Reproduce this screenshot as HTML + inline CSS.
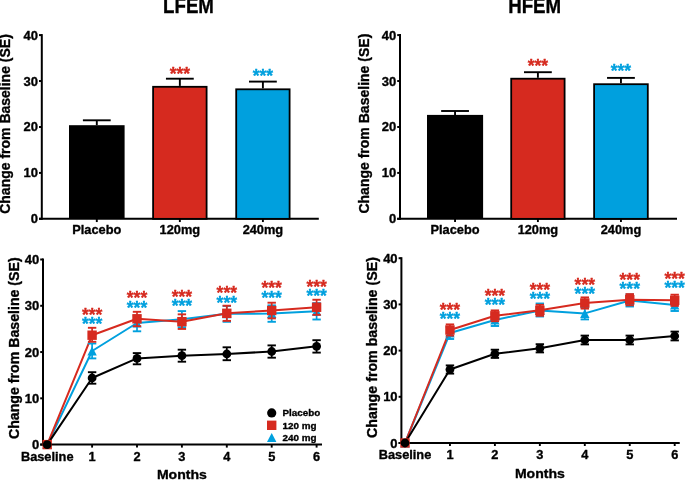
<!DOCTYPE html>
<html><head><meta charset="utf-8"><style>
html,body{margin:0;padding:0;background:#fff;width:685px;height:480px;overflow:hidden}
svg{display:block;will-change:transform}
</style></head><body>
<svg width="685" height="480" viewBox="0 0 685 480" font-family="'Liberation Sans', sans-serif" font-weight="bold">
<rect width="685" height="480" fill="#fff"/>
<line x1="41.8" y1="34.1" x2="41.8" y2="219.85" stroke="#000" stroke-width="2.0" stroke-linecap="butt"/>
<line x1="39.0" y1="218.85" x2="41.8" y2="218.85" stroke="#000" stroke-width="2.0" stroke-linecap="butt"/>
<text x="38.0" y="223.35" font-size="13" text-anchor="end" fill="#000" stroke="#000" stroke-width="0.35" stroke-linejoin="round" >0</text>
<line x1="39.0" y1="172.9125" x2="41.8" y2="172.9125" stroke="#000" stroke-width="2.0" stroke-linecap="butt"/>
<text x="38.0" y="177.4125" font-size="13" text-anchor="end" fill="#000" stroke="#000" stroke-width="0.35" stroke-linejoin="round" >10</text>
<line x1="39.0" y1="126.975" x2="41.8" y2="126.975" stroke="#000" stroke-width="2.0" stroke-linecap="butt"/>
<text x="38.0" y="131.475" font-size="13" text-anchor="end" fill="#000" stroke="#000" stroke-width="0.35" stroke-linejoin="round" >20</text>
<line x1="39.0" y1="81.0375" x2="41.8" y2="81.0375" stroke="#000" stroke-width="2.0" stroke-linecap="butt"/>
<text x="38.0" y="85.5375" font-size="13" text-anchor="end" fill="#000" stroke="#000" stroke-width="0.35" stroke-linejoin="round" >30</text>
<line x1="39.0" y1="35.099999999999994" x2="41.8" y2="35.099999999999994" stroke="#000" stroke-width="2.0" stroke-linecap="butt"/>
<text x="38.0" y="39.599999999999994" font-size="13" text-anchor="end" fill="#000" stroke="#000" stroke-width="0.35" stroke-linejoin="round" >40</text>
<line x1="39.0" y1="218.85" x2="318.8" y2="218.85" stroke="#000" stroke-width="2.0" stroke-linecap="butt"/>
<line x1="96.8" y1="120.3" x2="96.8" y2="125.2" stroke="#000" stroke-width="1.9" stroke-linecap="butt"/>
<line x1="82.89999999999999" y1="120.3" x2="110.7" y2="120.3" stroke="#000" stroke-width="1.9" stroke-linecap="butt"/>
<rect x="69.0" y="125.2" width="55.599999999999994" height="93.64999999999999" fill="#000"/>
<line x1="96.8" y1="218.85" x2="96.8" y2="222.04999999999998" stroke="#000" stroke-width="1.9" stroke-linecap="butt"/>
<text x="96.8" y="233.7" font-size="12.8" text-anchor="middle" fill="#000" stroke="#000" stroke-width="0.35" stroke-linejoin="round" >Placebo</text>
<line x1="179.85" y1="78.7" x2="179.85" y2="85.9" stroke="#000" stroke-width="1.9" stroke-linecap="butt"/>
<line x1="165.95" y1="78.7" x2="193.75" y2="78.7" stroke="#000" stroke-width="1.9" stroke-linecap="butt"/>
<rect x="153.1" y="86.80000000000001" width="53.500000000000014" height="132.04999999999998" fill="#d62a1f" stroke="#000" stroke-width="1.8"/>
<line x1="179.85" y1="218.85" x2="179.85" y2="222.04999999999998" stroke="#000" stroke-width="1.9" stroke-linecap="butt"/>
<text x="179.85" y="233.7" font-size="12.8" text-anchor="middle" fill="#000" stroke="#000" stroke-width="0.35" stroke-linejoin="round" >120mg</text>
<text x="179.85" y="80.15" font-size="17.5" text-anchor="middle" fill="#d62a1f" stroke="#d62a1f" stroke-width="0.35" stroke-linejoin="round" >***</text>
<line x1="262.9" y1="81.6" x2="262.9" y2="88.4" stroke="#000" stroke-width="1.9" stroke-linecap="butt"/>
<line x1="248.99999999999997" y1="81.6" x2="276.79999999999995" y2="81.6" stroke="#000" stroke-width="1.9" stroke-linecap="butt"/>
<rect x="236.20000000000002" y="89.30000000000001" width="53.39999999999999" height="129.54999999999998" fill="#00a0de" stroke="#000" stroke-width="1.8"/>
<line x1="262.9" y1="218.85" x2="262.9" y2="222.04999999999998" stroke="#000" stroke-width="1.9" stroke-linecap="butt"/>
<text x="262.9" y="233.7" font-size="12.8" text-anchor="middle" fill="#000" stroke="#000" stroke-width="0.35" stroke-linejoin="round" >240mg</text>
<text x="262.9" y="82.25" font-size="17.5" text-anchor="middle" fill="#00a0de" stroke="#00a0de" stroke-width="0.35" stroke-linejoin="round" >***</text>
<text x="188.5" y="13.3" font-size="21.5" text-anchor="middle" fill="#000" stroke="#000" stroke-width="0.35" stroke-linejoin="round" textLength="50.8" lengthAdjust="spacingAndGlyphs" >LFEM</text>
<line x1="400.0" y1="34.1" x2="400.0" y2="219.85" stroke="#000" stroke-width="2.0" stroke-linecap="butt"/>
<line x1="397.2" y1="218.85" x2="400.0" y2="218.85" stroke="#000" stroke-width="2.0" stroke-linecap="butt"/>
<text x="396.2" y="223.35" font-size="13" text-anchor="end" fill="#000" stroke="#000" stroke-width="0.35" stroke-linejoin="round" >0</text>
<line x1="397.2" y1="172.9125" x2="400.0" y2="172.9125" stroke="#000" stroke-width="2.0" stroke-linecap="butt"/>
<text x="396.2" y="177.4125" font-size="13" text-anchor="end" fill="#000" stroke="#000" stroke-width="0.35" stroke-linejoin="round" >10</text>
<line x1="397.2" y1="126.975" x2="400.0" y2="126.975" stroke="#000" stroke-width="2.0" stroke-linecap="butt"/>
<text x="396.2" y="131.475" font-size="13" text-anchor="end" fill="#000" stroke="#000" stroke-width="0.35" stroke-linejoin="round" >20</text>
<line x1="397.2" y1="81.0375" x2="400.0" y2="81.0375" stroke="#000" stroke-width="2.0" stroke-linecap="butt"/>
<text x="396.2" y="85.5375" font-size="13" text-anchor="end" fill="#000" stroke="#000" stroke-width="0.35" stroke-linejoin="round" >30</text>
<line x1="397.2" y1="35.099999999999994" x2="400.0" y2="35.099999999999994" stroke="#000" stroke-width="2.0" stroke-linecap="butt"/>
<text x="396.2" y="39.599999999999994" font-size="13" text-anchor="end" fill="#000" stroke="#000" stroke-width="0.35" stroke-linejoin="round" >40</text>
<line x1="397.2" y1="218.85" x2="677.0" y2="218.85" stroke="#000" stroke-width="2.0" stroke-linecap="butt"/>
<line x1="455.05" y1="111.0" x2="455.05" y2="114.9" stroke="#000" stroke-width="1.9" stroke-linecap="butt"/>
<line x1="441.15000000000003" y1="111.0" x2="468.95" y2="111.0" stroke="#000" stroke-width="1.9" stroke-linecap="butt"/>
<rect x="427.0" y="114.9" width="56.10000000000002" height="103.94999999999999" fill="#000"/>
<line x1="455.05" y1="218.85" x2="455.05" y2="222.04999999999998" stroke="#000" stroke-width="1.9" stroke-linecap="butt"/>
<text x="455.05" y="233.7" font-size="12.8" text-anchor="middle" fill="#000" stroke="#000" stroke-width="0.35" stroke-linejoin="round" >Placebo</text>
<line x1="537.9" y1="72.2" x2="537.9" y2="77.8" stroke="#000" stroke-width="1.9" stroke-linecap="butt"/>
<line x1="524.0" y1="72.2" x2="551.8" y2="72.2" stroke="#000" stroke-width="1.9" stroke-linecap="butt"/>
<rect x="511.2" y="78.7" width="53.39999999999999" height="140.15" fill="#d62a1f" stroke="#000" stroke-width="1.8"/>
<line x1="537.9" y1="218.85" x2="537.9" y2="222.04999999999998" stroke="#000" stroke-width="1.9" stroke-linecap="butt"/>
<text x="537.9" y="233.7" font-size="12.8" text-anchor="middle" fill="#000" stroke="#000" stroke-width="0.35" stroke-linejoin="round" >120mg</text>
<text x="537.9" y="71.75" font-size="17.5" text-anchor="middle" fill="#d62a1f" stroke="#d62a1f" stroke-width="0.35" stroke-linejoin="round" >***</text>
<line x1="620.95" y1="77.9" x2="620.95" y2="83.3" stroke="#000" stroke-width="1.9" stroke-linecap="butt"/>
<line x1="607.0500000000001" y1="77.9" x2="634.85" y2="77.9" stroke="#000" stroke-width="1.9" stroke-linecap="butt"/>
<rect x="594.1" y="84.2" width="53.7" height="134.65" fill="#00a0de" stroke="#000" stroke-width="1.8"/>
<line x1="620.95" y1="218.85" x2="620.95" y2="222.04999999999998" stroke="#000" stroke-width="1.9" stroke-linecap="butt"/>
<text x="620.95" y="233.7" font-size="12.8" text-anchor="middle" fill="#000" stroke="#000" stroke-width="0.35" stroke-linejoin="round" >240mg</text>
<text x="620.95" y="77.35000000000001" font-size="17.5" text-anchor="middle" fill="#00a0de" stroke="#00a0de" stroke-width="0.35" stroke-linejoin="round" >***</text>
<text x="534.7" y="13.3" font-size="21.5" text-anchor="middle" fill="#000" stroke="#000" stroke-width="0.35" stroke-linejoin="round" textLength="53.0" lengthAdjust="spacingAndGlyphs" >HFEM</text>
<text transform="translate(10.3,213.8) rotate(-90)" x="0" y="0" font-size="14" text-anchor="start" stroke="#000" stroke-width="0.35" stroke-linejoin="round" textLength="179.60000000000002" lengthAdjust="spacingAndGlyphs">Change from Baseline (SE)</text>
<text transform="translate(369.1,213.6) rotate(-90)" x="0" y="0" font-size="14" text-anchor="start" stroke="#000" stroke-width="0.35" stroke-linejoin="round" textLength="179.89999999999998" lengthAdjust="spacingAndGlyphs">Change from Baseline (SE)</text>
<line x1="43.0" y1="258.5" x2="43.0" y2="445.6" stroke="#000" stroke-width="2.0" stroke-linecap="butt"/>
<line x1="40.2" y1="444.6" x2="43.0" y2="444.6" stroke="#000" stroke-width="2.0" stroke-linecap="butt"/>
<text x="39.2" y="449.1" font-size="13" text-anchor="end" fill="#000" stroke="#000" stroke-width="0.35" stroke-linejoin="round" >0</text>
<line x1="40.2" y1="398.32500000000005" x2="43.0" y2="398.32500000000005" stroke="#000" stroke-width="2.0" stroke-linecap="butt"/>
<text x="39.2" y="402.82500000000005" font-size="13" text-anchor="end" fill="#000" stroke="#000" stroke-width="0.35" stroke-linejoin="round" >10</text>
<line x1="40.2" y1="352.05" x2="43.0" y2="352.05" stroke="#000" stroke-width="2.0" stroke-linecap="butt"/>
<text x="39.2" y="356.55" font-size="13" text-anchor="end" fill="#000" stroke="#000" stroke-width="0.35" stroke-linejoin="round" >20</text>
<line x1="40.2" y1="305.775" x2="43.0" y2="305.775" stroke="#000" stroke-width="2.0" stroke-linecap="butt"/>
<text x="39.2" y="310.275" font-size="13" text-anchor="end" fill="#000" stroke="#000" stroke-width="0.35" stroke-linejoin="round" >30</text>
<line x1="40.2" y1="259.5" x2="43.0" y2="259.5" stroke="#000" stroke-width="2.0" stroke-linecap="butt"/>
<text x="39.2" y="264.0" font-size="13" text-anchor="end" fill="#000" stroke="#000" stroke-width="0.35" stroke-linejoin="round" >40</text>
<line x1="40.2" y1="444.6" x2="322.0" y2="444.6" stroke="#000" stroke-width="2.0" stroke-linecap="butt"/>
<line x1="92.1" y1="444.6" x2="92.1" y2="447.6" stroke="#000" stroke-width="1.9" stroke-linecap="butt"/>
<text x="92.1" y="460.70000000000005" font-size="12.8" text-anchor="middle" fill="#000" stroke="#000" stroke-width="0.35" stroke-linejoin="round" >1</text>
<line x1="137.0" y1="444.6" x2="137.0" y2="447.6" stroke="#000" stroke-width="1.9" stroke-linecap="butt"/>
<text x="137.0" y="460.70000000000005" font-size="12.8" text-anchor="middle" fill="#000" stroke="#000" stroke-width="0.35" stroke-linejoin="round" >2</text>
<line x1="181.89999999999998" y1="444.6" x2="181.89999999999998" y2="447.6" stroke="#000" stroke-width="1.9" stroke-linecap="butt"/>
<text x="181.89999999999998" y="460.70000000000005" font-size="12.8" text-anchor="middle" fill="#000" stroke="#000" stroke-width="0.35" stroke-linejoin="round" >3</text>
<line x1="226.8" y1="444.6" x2="226.8" y2="447.6" stroke="#000" stroke-width="1.9" stroke-linecap="butt"/>
<text x="226.8" y="460.70000000000005" font-size="12.8" text-anchor="middle" fill="#000" stroke="#000" stroke-width="0.35" stroke-linejoin="round" >4</text>
<line x1="271.7" y1="444.6" x2="271.7" y2="447.6" stroke="#000" stroke-width="1.9" stroke-linecap="butt"/>
<text x="271.7" y="460.70000000000005" font-size="12.8" text-anchor="middle" fill="#000" stroke="#000" stroke-width="0.35" stroke-linejoin="round" >5</text>
<line x1="316.59999999999997" y1="444.6" x2="316.59999999999997" y2="447.6" stroke="#000" stroke-width="1.9" stroke-linecap="butt"/>
<text x="316.59999999999997" y="460.70000000000005" font-size="12.8" text-anchor="middle" fill="#000" stroke="#000" stroke-width="0.35" stroke-linejoin="round" >6</text>
<text x="47.2" y="460.8" font-size="12.8" text-anchor="middle" fill="#000" stroke="#000" stroke-width="0.35" stroke-linejoin="round" textLength="52.6" lengthAdjust="spacingAndGlyphs" >Baseline</text>
<text x="181.9" y="479.40000000000003" font-size="13.6" text-anchor="middle" fill="#000" stroke="#000" stroke-width="0.35" stroke-linejoin="round" textLength="50.0" lengthAdjust="spacingAndGlyphs" >Months</text>
<polyline points="47.2,444.6 92.1,351.0 137.0,323.0 181.89999999999998,319.2 226.8,313.8 271.7,313.6 316.59999999999997,311.3" fill="none" stroke="#00a0de" stroke-width="2" stroke-linejoin="round"/>
<polyline points="47.2,444.6 92.1,335.2 137.0,318.8 181.89999999999998,321.65 226.8,313.3 271.7,310.5 316.59999999999997,307.25" fill="none" stroke="#d62a1f" stroke-width="2" stroke-linejoin="round"/>
<polyline points="47.2,444.6 92.1,378.0 137.0,358.4 181.89999999999998,355.65 226.8,354.0 271.7,351.5 316.59999999999997,346.3" fill="none" stroke="#000" stroke-width="2" stroke-linejoin="round"/>
<polygon points="42.5,449.1 51.900000000000006,449.1 47.2,440.1" fill="#00a0de"/>
<line x1="92.1" y1="343.5" x2="92.1" y2="358.4" stroke="#00a0de" stroke-width="1.7" stroke-linecap="butt"/>
<line x1="87.89999999999999" y1="343.5" x2="96.3" y2="343.5" stroke="#00a0de" stroke-width="1.9" stroke-linecap="butt"/>
<line x1="87.89999999999999" y1="358.4" x2="96.3" y2="358.4" stroke="#00a0de" stroke-width="1.9" stroke-linecap="butt"/>
<polygon points="87.39999999999999,355.5 96.8,355.5 92.1,346.5" fill="#00a0de"/>
<line x1="137.0" y1="315.5" x2="137.0" y2="331.3" stroke="#00a0de" stroke-width="1.7" stroke-linecap="butt"/>
<line x1="132.8" y1="315.5" x2="141.2" y2="315.5" stroke="#00a0de" stroke-width="1.9" stroke-linecap="butt"/>
<line x1="132.8" y1="331.3" x2="141.2" y2="331.3" stroke="#00a0de" stroke-width="1.9" stroke-linecap="butt"/>
<polygon points="132.3,327.5 141.7,327.5 137.0,318.5" fill="#00a0de"/>
<line x1="181.89999999999998" y1="311.09999999999997" x2="181.89999999999998" y2="327.2" stroke="#00a0de" stroke-width="1.7" stroke-linecap="butt"/>
<line x1="177.7" y1="311.09999999999997" x2="186.09999999999997" y2="311.09999999999997" stroke="#00a0de" stroke-width="1.9" stroke-linecap="butt"/>
<line x1="177.7" y1="327.2" x2="186.09999999999997" y2="327.2" stroke="#00a0de" stroke-width="1.9" stroke-linecap="butt"/>
<polygon points="177.2,323.7 186.59999999999997,323.7 181.89999999999998,314.7" fill="#00a0de"/>
<line x1="226.8" y1="306.0" x2="226.8" y2="321.8" stroke="#00a0de" stroke-width="1.7" stroke-linecap="butt"/>
<line x1="222.60000000000002" y1="306.0" x2="231.0" y2="306.0" stroke="#00a0de" stroke-width="1.9" stroke-linecap="butt"/>
<line x1="222.60000000000002" y1="321.8" x2="231.0" y2="321.8" stroke="#00a0de" stroke-width="1.9" stroke-linecap="butt"/>
<polygon points="222.10000000000002,318.3 231.5,318.3 226.8,309.3" fill="#00a0de"/>
<line x1="271.7" y1="305.40000000000003" x2="271.7" y2="321.8" stroke="#00a0de" stroke-width="1.7" stroke-linecap="butt"/>
<line x1="267.5" y1="305.40000000000003" x2="275.9" y2="305.40000000000003" stroke="#00a0de" stroke-width="1.9" stroke-linecap="butt"/>
<line x1="267.5" y1="321.8" x2="275.9" y2="321.8" stroke="#00a0de" stroke-width="1.9" stroke-linecap="butt"/>
<polygon points="267.0,318.1 276.4,318.1 271.7,309.1" fill="#00a0de"/>
<line x1="316.59999999999997" y1="303.1" x2="316.59999999999997" y2="319.5" stroke="#00a0de" stroke-width="1.7" stroke-linecap="butt"/>
<line x1="312.4" y1="303.1" x2="320.79999999999995" y2="303.1" stroke="#00a0de" stroke-width="1.9" stroke-linecap="butt"/>
<line x1="312.4" y1="319.5" x2="320.79999999999995" y2="319.5" stroke="#00a0de" stroke-width="1.9" stroke-linecap="butt"/>
<polygon points="311.9,315.8 321.29999999999995,315.8 316.59999999999997,306.8" fill="#00a0de"/>
<rect x="42.5" y="439.90000000000003" width="9.4" height="9.4" fill="#d62a1f"/>
<line x1="92.1" y1="327.8" x2="92.1" y2="341.8" stroke="#d62a1f" stroke-width="1.7" stroke-linecap="butt"/>
<line x1="87.89999999999999" y1="327.8" x2="96.3" y2="327.8" stroke="#d62a1f" stroke-width="1.9" stroke-linecap="butt"/>
<line x1="87.89999999999999" y1="341.8" x2="96.3" y2="341.8" stroke="#d62a1f" stroke-width="1.9" stroke-linecap="butt"/>
<rect x="87.39999999999999" y="330.5" width="9.4" height="9.4" fill="#d62a1f"/>
<line x1="137.0" y1="311.8" x2="137.0" y2="326.2" stroke="#d62a1f" stroke-width="1.7" stroke-linecap="butt"/>
<line x1="132.8" y1="311.8" x2="141.2" y2="311.8" stroke="#d62a1f" stroke-width="1.9" stroke-linecap="butt"/>
<line x1="132.8" y1="326.2" x2="141.2" y2="326.2" stroke="#d62a1f" stroke-width="1.9" stroke-linecap="butt"/>
<rect x="132.3" y="314.1" width="9.4" height="9.4" fill="#d62a1f"/>
<line x1="181.89999999999998" y1="314.34999999999997" x2="181.89999999999998" y2="328.95" stroke="#d62a1f" stroke-width="1.7" stroke-linecap="butt"/>
<line x1="177.7" y1="314.34999999999997" x2="186.09999999999997" y2="314.34999999999997" stroke="#d62a1f" stroke-width="1.9" stroke-linecap="butt"/>
<line x1="177.7" y1="328.95" x2="186.09999999999997" y2="328.95" stroke="#d62a1f" stroke-width="1.9" stroke-linecap="butt"/>
<rect x="177.2" y="316.95" width="9.4" height="9.4" fill="#d62a1f"/>
<line x1="226.8" y1="305.7" x2="226.8" y2="320.90000000000003" stroke="#d62a1f" stroke-width="1.7" stroke-linecap="butt"/>
<line x1="222.60000000000002" y1="305.7" x2="231.0" y2="305.7" stroke="#d62a1f" stroke-width="1.9" stroke-linecap="butt"/>
<line x1="222.60000000000002" y1="320.90000000000003" x2="231.0" y2="320.90000000000003" stroke="#d62a1f" stroke-width="1.9" stroke-linecap="butt"/>
<rect x="222.10000000000002" y="308.6" width="9.4" height="9.4" fill="#d62a1f"/>
<line x1="271.7" y1="302.7" x2="271.7" y2="318.4" stroke="#d62a1f" stroke-width="1.7" stroke-linecap="butt"/>
<line x1="267.5" y1="302.7" x2="275.9" y2="302.7" stroke="#d62a1f" stroke-width="1.9" stroke-linecap="butt"/>
<line x1="267.5" y1="318.4" x2="275.9" y2="318.4" stroke="#d62a1f" stroke-width="1.9" stroke-linecap="butt"/>
<rect x="267.0" y="305.8" width="9.4" height="9.4" fill="#d62a1f"/>
<line x1="316.59999999999997" y1="299.75" x2="316.59999999999997" y2="314.85" stroke="#d62a1f" stroke-width="1.7" stroke-linecap="butt"/>
<line x1="312.4" y1="299.75" x2="320.79999999999995" y2="299.75" stroke="#d62a1f" stroke-width="1.9" stroke-linecap="butt"/>
<line x1="312.4" y1="314.85" x2="320.79999999999995" y2="314.85" stroke="#d62a1f" stroke-width="1.9" stroke-linecap="butt"/>
<rect x="311.9" y="302.55" width="9.4" height="9.4" fill="#d62a1f"/>
<circle cx="47.2" cy="444.6" r="4.4" fill="#000"/>
<line x1="92.1" y1="372.2" x2="92.1" y2="383.7" stroke="#000" stroke-width="1.7" stroke-linecap="butt"/>
<line x1="87.89999999999999" y1="372.2" x2="96.3" y2="372.2" stroke="#000" stroke-width="1.9" stroke-linecap="butt"/>
<line x1="87.89999999999999" y1="383.7" x2="96.3" y2="383.7" stroke="#000" stroke-width="1.9" stroke-linecap="butt"/>
<circle cx="92.1" cy="378.0" r="4.4" fill="#000"/>
<line x1="137.0" y1="353.09999999999997" x2="137.0" y2="364.29999999999995" stroke="#000" stroke-width="1.7" stroke-linecap="butt"/>
<line x1="132.8" y1="353.09999999999997" x2="141.2" y2="353.09999999999997" stroke="#000" stroke-width="1.9" stroke-linecap="butt"/>
<line x1="132.8" y1="364.29999999999995" x2="141.2" y2="364.29999999999995" stroke="#000" stroke-width="1.9" stroke-linecap="butt"/>
<circle cx="137.0" cy="358.4" r="4.4" fill="#000"/>
<line x1="181.89999999999998" y1="349.7" x2="181.89999999999998" y2="361.7" stroke="#000" stroke-width="1.7" stroke-linecap="butt"/>
<line x1="177.7" y1="349.7" x2="186.09999999999997" y2="349.7" stroke="#000" stroke-width="1.9" stroke-linecap="butt"/>
<line x1="177.7" y1="361.7" x2="186.09999999999997" y2="361.7" stroke="#000" stroke-width="1.9" stroke-linecap="butt"/>
<circle cx="181.89999999999998" cy="355.65" r="4.4" fill="#000"/>
<line x1="226.8" y1="347.3" x2="226.8" y2="360.2" stroke="#000" stroke-width="1.7" stroke-linecap="butt"/>
<line x1="222.60000000000002" y1="347.3" x2="231.0" y2="347.3" stroke="#000" stroke-width="1.9" stroke-linecap="butt"/>
<line x1="222.60000000000002" y1="360.2" x2="231.0" y2="360.2" stroke="#000" stroke-width="1.9" stroke-linecap="butt"/>
<circle cx="226.8" cy="354.0" r="4.4" fill="#000"/>
<line x1="271.7" y1="345.4" x2="271.7" y2="357.7" stroke="#000" stroke-width="1.7" stroke-linecap="butt"/>
<line x1="267.5" y1="345.4" x2="275.9" y2="345.4" stroke="#000" stroke-width="1.9" stroke-linecap="butt"/>
<line x1="267.5" y1="357.7" x2="275.9" y2="357.7" stroke="#000" stroke-width="1.9" stroke-linecap="butt"/>
<circle cx="271.7" cy="351.5" r="4.4" fill="#000"/>
<line x1="316.59999999999997" y1="340.2" x2="316.59999999999997" y2="352.6" stroke="#000" stroke-width="1.7" stroke-linecap="butt"/>
<line x1="312.4" y1="340.2" x2="320.79999999999995" y2="340.2" stroke="#000" stroke-width="1.9" stroke-linecap="butt"/>
<line x1="312.4" y1="352.6" x2="320.79999999999995" y2="352.6" stroke="#000" stroke-width="1.9" stroke-linecap="butt"/>
<circle cx="316.59999999999997" cy="346.3" r="4.4" fill="#000"/>
<text x="92.1" y="320.95" font-size="17.5" text-anchor="middle" fill="#d62a1f" stroke="#d62a1f" stroke-width="0.35" stroke-linejoin="round" >***</text>
<text x="92.1" y="329.95" font-size="17.5" text-anchor="middle" fill="#00a0de" stroke="#00a0de" stroke-width="0.35" stroke-linejoin="round" >***</text>
<text x="137.0" y="303.95" font-size="17.5" text-anchor="middle" fill="#d62a1f" stroke="#d62a1f" stroke-width="0.35" stroke-linejoin="round" >***</text>
<text x="137.0" y="313.7" font-size="17.5" text-anchor="middle" fill="#00a0de" stroke="#00a0de" stroke-width="0.35" stroke-linejoin="round" >***</text>
<text x="181.89999999999998" y="303.05" font-size="17.5" text-anchor="middle" fill="#d62a1f" stroke="#d62a1f" stroke-width="0.35" stroke-linejoin="round" >***</text>
<text x="181.89999999999998" y="312.2" font-size="17.5" text-anchor="middle" fill="#00a0de" stroke="#00a0de" stroke-width="0.35" stroke-linejoin="round" >***</text>
<text x="226.8" y="299.34999999999997" font-size="17.5" text-anchor="middle" fill="#d62a1f" stroke="#d62a1f" stroke-width="0.35" stroke-linejoin="round" >***</text>
<text x="226.8" y="308.7" font-size="17.5" text-anchor="middle" fill="#00a0de" stroke="#00a0de" stroke-width="0.35" stroke-linejoin="round" >***</text>
<text x="271.7" y="294.34999999999997" font-size="17.5" text-anchor="middle" fill="#d62a1f" stroke="#d62a1f" stroke-width="0.35" stroke-linejoin="round" >***</text>
<text x="271.7" y="303.7" font-size="17.5" text-anchor="middle" fill="#00a0de" stroke="#00a0de" stroke-width="0.35" stroke-linejoin="round" >***</text>
<text x="316.59999999999997" y="292.7" font-size="17.5" text-anchor="middle" fill="#d62a1f" stroke="#d62a1f" stroke-width="0.35" stroke-linejoin="round" >***</text>
<text x="316.59999999999997" y="301.84999999999997" font-size="17.5" text-anchor="middle" fill="#00a0de" stroke="#00a0de" stroke-width="0.35" stroke-linejoin="round" >***</text>
<text transform="translate(19.1,439.1) rotate(-90)" x="0" y="0" font-size="14" text-anchor="start" stroke="#000" stroke-width="0.35" stroke-linejoin="round" textLength="181.8" lengthAdjust="spacingAndGlyphs">Change from Baseline (SE)</text>
<circle cx="271.7" cy="412.9" r="4.6" fill="#000"/>
<text x="282.5" y="416.2" font-size="9.85" text-anchor="start" fill="#000" stroke="#000" stroke-width="0.35" stroke-linejoin="round" >Placebo</text>
<rect x="267.0" y="420.6" width="9.4" height="9.4" fill="#d62a1f"/>
<text x="282.5" y="428.7" font-size="9.85" text-anchor="start" fill="#000" stroke="#000" stroke-width="0.35" stroke-linejoin="round" >120 mg</text>
<polygon points="267.0,442.1 276.4,442.1 271.7,433.1" fill="#00a0de"/>
<text x="282.5" y="440.9" font-size="9.85" text-anchor="start" fill="#000" stroke="#000" stroke-width="0.35" stroke-linejoin="round" >240 mg</text>
<line x1="401.4" y1="257.2" x2="401.4" y2="444.0" stroke="#000" stroke-width="2.0" stroke-linecap="butt"/>
<line x1="398.59999999999997" y1="443.0" x2="401.4" y2="443.0" stroke="#000" stroke-width="2.0" stroke-linecap="butt"/>
<text x="397.59999999999997" y="447.5" font-size="13" text-anchor="end" fill="#000" stroke="#000" stroke-width="0.35" stroke-linejoin="round" >0</text>
<line x1="398.59999999999997" y1="396.8" x2="401.4" y2="396.8" stroke="#000" stroke-width="2.0" stroke-linecap="butt"/>
<text x="397.59999999999997" y="401.3" font-size="13" text-anchor="end" fill="#000" stroke="#000" stroke-width="0.35" stroke-linejoin="round" >10</text>
<line x1="398.59999999999997" y1="350.6" x2="401.4" y2="350.6" stroke="#000" stroke-width="2.0" stroke-linecap="butt"/>
<text x="397.59999999999997" y="355.1" font-size="13" text-anchor="end" fill="#000" stroke="#000" stroke-width="0.35" stroke-linejoin="round" >20</text>
<line x1="398.59999999999997" y1="304.4" x2="401.4" y2="304.4" stroke="#000" stroke-width="2.0" stroke-linecap="butt"/>
<text x="397.59999999999997" y="308.9" font-size="13" text-anchor="end" fill="#000" stroke="#000" stroke-width="0.35" stroke-linejoin="round" >30</text>
<line x1="398.59999999999997" y1="258.2" x2="401.4" y2="258.2" stroke="#000" stroke-width="2.0" stroke-linecap="butt"/>
<text x="397.59999999999997" y="262.7" font-size="13" text-anchor="end" fill="#000" stroke="#000" stroke-width="0.35" stroke-linejoin="round" >40</text>
<line x1="398.59999999999997" y1="443.0" x2="679.75" y2="443.0" stroke="#000" stroke-width="2.0" stroke-linecap="butt"/>
<line x1="449.95" y1="443.0" x2="449.95" y2="446.0" stroke="#000" stroke-width="1.9" stroke-linecap="butt"/>
<text x="449.95" y="459.1" font-size="12.8" text-anchor="middle" fill="#000" stroke="#000" stroke-width="0.35" stroke-linejoin="round" >1</text>
<line x1="494.9" y1="443.0" x2="494.9" y2="446.0" stroke="#000" stroke-width="1.9" stroke-linecap="butt"/>
<text x="494.9" y="459.1" font-size="12.8" text-anchor="middle" fill="#000" stroke="#000" stroke-width="0.35" stroke-linejoin="round" >2</text>
<line x1="539.85" y1="443.0" x2="539.85" y2="446.0" stroke="#000" stroke-width="1.9" stroke-linecap="butt"/>
<text x="539.85" y="459.1" font-size="12.8" text-anchor="middle" fill="#000" stroke="#000" stroke-width="0.35" stroke-linejoin="round" >3</text>
<line x1="584.8" y1="443.0" x2="584.8" y2="446.0" stroke="#000" stroke-width="1.9" stroke-linecap="butt"/>
<text x="584.8" y="459.1" font-size="12.8" text-anchor="middle" fill="#000" stroke="#000" stroke-width="0.35" stroke-linejoin="round" >4</text>
<line x1="629.75" y1="443.0" x2="629.75" y2="446.0" stroke="#000" stroke-width="1.9" stroke-linecap="butt"/>
<text x="629.75" y="459.1" font-size="12.8" text-anchor="middle" fill="#000" stroke="#000" stroke-width="0.35" stroke-linejoin="round" >5</text>
<line x1="674.7" y1="443.0" x2="674.7" y2="446.0" stroke="#000" stroke-width="1.9" stroke-linecap="butt"/>
<text x="674.7" y="459.1" font-size="12.8" text-anchor="middle" fill="#000" stroke="#000" stroke-width="0.35" stroke-linejoin="round" >6</text>
<text x="405.0" y="459.2" font-size="12.8" text-anchor="middle" fill="#000" stroke="#000" stroke-width="0.35" stroke-linejoin="round" textLength="52.6" lengthAdjust="spacingAndGlyphs" >Baseline</text>
<text x="539.9" y="477.8" font-size="13.6" text-anchor="middle" fill="#000" stroke="#000" stroke-width="0.35" stroke-linejoin="round" textLength="50.0" lengthAdjust="spacingAndGlyphs" >Months</text>
<polyline points="405.0,443.0 449.95,333.0 494.9,320.0 539.85,310.5 584.8,313.4 629.75,300.5 674.7,305.0" fill="none" stroke="#00a0de" stroke-width="2" stroke-linejoin="round"/>
<polyline points="405.0,443.0 449.95,330.0 494.9,315.8 539.85,310.3 584.8,303.0 629.75,299.7 674.7,300.3" fill="none" stroke="#d62a1f" stroke-width="2" stroke-linejoin="round"/>
<polyline points="405.0,443.0 449.95,369.5 494.9,353.8 539.85,348.3 584.8,340.0 629.75,340.0 674.7,336.0" fill="none" stroke="#000" stroke-width="2" stroke-linejoin="round"/>
<polygon points="400.3,447.5 409.7,447.5 405.0,438.5" fill="#00a0de"/>
<line x1="449.95" y1="327.0" x2="449.95" y2="339.0" stroke="#00a0de" stroke-width="1.7" stroke-linecap="butt"/>
<line x1="445.75" y1="327.0" x2="454.15" y2="327.0" stroke="#00a0de" stroke-width="1.9" stroke-linecap="butt"/>
<line x1="445.75" y1="339.0" x2="454.15" y2="339.0" stroke="#00a0de" stroke-width="1.9" stroke-linecap="butt"/>
<polygon points="445.25,337.5 454.65,337.5 449.95,328.5" fill="#00a0de"/>
<line x1="494.9" y1="314.0" x2="494.9" y2="326.0" stroke="#00a0de" stroke-width="1.7" stroke-linecap="butt"/>
<line x1="490.7" y1="314.0" x2="499.09999999999997" y2="314.0" stroke="#00a0de" stroke-width="1.9" stroke-linecap="butt"/>
<line x1="490.7" y1="326.0" x2="499.09999999999997" y2="326.0" stroke="#00a0de" stroke-width="1.9" stroke-linecap="butt"/>
<polygon points="490.2,324.5 499.59999999999997,324.5 494.9,315.5" fill="#00a0de"/>
<line x1="539.85" y1="303.5" x2="539.85" y2="316.5" stroke="#00a0de" stroke-width="1.7" stroke-linecap="butt"/>
<line x1="535.65" y1="303.5" x2="544.0500000000001" y2="303.5" stroke="#00a0de" stroke-width="1.9" stroke-linecap="butt"/>
<line x1="535.65" y1="316.5" x2="544.0500000000001" y2="316.5" stroke="#00a0de" stroke-width="1.9" stroke-linecap="butt"/>
<polygon points="535.15,315.0 544.5500000000001,315.0 539.85,306.0" fill="#00a0de"/>
<line x1="584.8" y1="307.4" x2="584.8" y2="319.4" stroke="#00a0de" stroke-width="1.7" stroke-linecap="butt"/>
<line x1="580.5999999999999" y1="307.4" x2="589.0" y2="307.4" stroke="#00a0de" stroke-width="1.9" stroke-linecap="butt"/>
<line x1="580.5999999999999" y1="319.4" x2="589.0" y2="319.4" stroke="#00a0de" stroke-width="1.9" stroke-linecap="butt"/>
<polygon points="580.0999999999999,317.9 589.5,317.9 584.8,308.9" fill="#00a0de"/>
<line x1="629.75" y1="294.5" x2="629.75" y2="306.5" stroke="#00a0de" stroke-width="1.7" stroke-linecap="butt"/>
<line x1="625.55" y1="294.5" x2="633.95" y2="294.5" stroke="#00a0de" stroke-width="1.9" stroke-linecap="butt"/>
<line x1="625.55" y1="306.5" x2="633.95" y2="306.5" stroke="#00a0de" stroke-width="1.9" stroke-linecap="butt"/>
<polygon points="625.05,305.0 634.45,305.0 629.75,296.0" fill="#00a0de"/>
<line x1="674.7" y1="299.0" x2="674.7" y2="311.0" stroke="#00a0de" stroke-width="1.7" stroke-linecap="butt"/>
<line x1="670.5" y1="299.0" x2="678.9000000000001" y2="299.0" stroke="#00a0de" stroke-width="1.9" stroke-linecap="butt"/>
<line x1="670.5" y1="311.0" x2="678.9000000000001" y2="311.0" stroke="#00a0de" stroke-width="1.9" stroke-linecap="butt"/>
<polygon points="670.0,309.5 679.4000000000001,309.5 674.7,300.5" fill="#00a0de"/>
<rect x="400.3" y="438.3" width="9.4" height="9.4" fill="#d62a1f"/>
<line x1="449.95" y1="324.4" x2="449.95" y2="335.6" stroke="#d62a1f" stroke-width="1.7" stroke-linecap="butt"/>
<line x1="445.75" y1="324.4" x2="454.15" y2="324.4" stroke="#d62a1f" stroke-width="1.9" stroke-linecap="butt"/>
<line x1="445.75" y1="335.6" x2="454.15" y2="335.6" stroke="#d62a1f" stroke-width="1.9" stroke-linecap="butt"/>
<rect x="445.25" y="325.3" width="9.4" height="9.4" fill="#d62a1f"/>
<line x1="494.9" y1="310.40000000000003" x2="494.9" y2="321.2" stroke="#d62a1f" stroke-width="1.7" stroke-linecap="butt"/>
<line x1="490.7" y1="310.40000000000003" x2="499.09999999999997" y2="310.40000000000003" stroke="#d62a1f" stroke-width="1.9" stroke-linecap="butt"/>
<line x1="490.7" y1="321.2" x2="499.09999999999997" y2="321.2" stroke="#d62a1f" stroke-width="1.9" stroke-linecap="butt"/>
<rect x="490.2" y="311.1" width="9.4" height="9.4" fill="#d62a1f"/>
<line x1="539.85" y1="304.8" x2="539.85" y2="315.8" stroke="#d62a1f" stroke-width="1.7" stroke-linecap="butt"/>
<line x1="535.65" y1="304.8" x2="544.0500000000001" y2="304.8" stroke="#d62a1f" stroke-width="1.9" stroke-linecap="butt"/>
<line x1="535.65" y1="315.8" x2="544.0500000000001" y2="315.8" stroke="#d62a1f" stroke-width="1.9" stroke-linecap="butt"/>
<rect x="535.15" y="305.6" width="9.4" height="9.4" fill="#d62a1f"/>
<line x1="584.8" y1="297.4" x2="584.8" y2="308.6" stroke="#d62a1f" stroke-width="1.7" stroke-linecap="butt"/>
<line x1="580.5999999999999" y1="297.4" x2="589.0" y2="297.4" stroke="#d62a1f" stroke-width="1.9" stroke-linecap="butt"/>
<line x1="580.5999999999999" y1="308.6" x2="589.0" y2="308.6" stroke="#d62a1f" stroke-width="1.9" stroke-linecap="butt"/>
<rect x="580.0999999999999" y="298.3" width="9.4" height="9.4" fill="#d62a1f"/>
<line x1="629.75" y1="294.09999999999997" x2="629.75" y2="305.3" stroke="#d62a1f" stroke-width="1.7" stroke-linecap="butt"/>
<line x1="625.55" y1="294.09999999999997" x2="633.95" y2="294.09999999999997" stroke="#d62a1f" stroke-width="1.9" stroke-linecap="butt"/>
<line x1="625.55" y1="305.3" x2="633.95" y2="305.3" stroke="#d62a1f" stroke-width="1.9" stroke-linecap="butt"/>
<rect x="625.05" y="295.0" width="9.4" height="9.4" fill="#d62a1f"/>
<line x1="674.7" y1="294.7" x2="674.7" y2="305.90000000000003" stroke="#d62a1f" stroke-width="1.7" stroke-linecap="butt"/>
<line x1="670.5" y1="294.7" x2="678.9000000000001" y2="294.7" stroke="#d62a1f" stroke-width="1.9" stroke-linecap="butt"/>
<line x1="670.5" y1="305.90000000000003" x2="678.9000000000001" y2="305.90000000000003" stroke="#d62a1f" stroke-width="1.9" stroke-linecap="butt"/>
<rect x="670.0" y="295.6" width="9.4" height="9.4" fill="#d62a1f"/>
<circle cx="405.0" cy="443.0" r="4.4" fill="#000"/>
<line x1="449.95" y1="365.4" x2="449.95" y2="373.6" stroke="#000" stroke-width="1.7" stroke-linecap="butt"/>
<line x1="445.75" y1="365.4" x2="454.15" y2="365.4" stroke="#000" stroke-width="1.9" stroke-linecap="butt"/>
<line x1="445.75" y1="373.6" x2="454.15" y2="373.6" stroke="#000" stroke-width="1.9" stroke-linecap="butt"/>
<circle cx="449.95" cy="369.5" r="4.4" fill="#000"/>
<line x1="494.9" y1="349.7" x2="494.9" y2="357.90000000000003" stroke="#000" stroke-width="1.7" stroke-linecap="butt"/>
<line x1="490.7" y1="349.7" x2="499.09999999999997" y2="349.7" stroke="#000" stroke-width="1.9" stroke-linecap="butt"/>
<line x1="490.7" y1="357.90000000000003" x2="499.09999999999997" y2="357.90000000000003" stroke="#000" stroke-width="1.9" stroke-linecap="butt"/>
<circle cx="494.9" cy="353.8" r="4.4" fill="#000"/>
<line x1="539.85" y1="344.2" x2="539.85" y2="352.40000000000003" stroke="#000" stroke-width="1.7" stroke-linecap="butt"/>
<line x1="535.65" y1="344.2" x2="544.0500000000001" y2="344.2" stroke="#000" stroke-width="1.9" stroke-linecap="butt"/>
<line x1="535.65" y1="352.40000000000003" x2="544.0500000000001" y2="352.40000000000003" stroke="#000" stroke-width="1.9" stroke-linecap="butt"/>
<circle cx="539.85" cy="348.3" r="4.4" fill="#000"/>
<line x1="584.8" y1="335.6" x2="584.8" y2="344.4" stroke="#000" stroke-width="1.7" stroke-linecap="butt"/>
<line x1="580.5999999999999" y1="335.6" x2="589.0" y2="335.6" stroke="#000" stroke-width="1.9" stroke-linecap="butt"/>
<line x1="580.5999999999999" y1="344.4" x2="589.0" y2="344.4" stroke="#000" stroke-width="1.9" stroke-linecap="butt"/>
<circle cx="584.8" cy="340.0" r="4.4" fill="#000"/>
<line x1="629.75" y1="335.6" x2="629.75" y2="344.4" stroke="#000" stroke-width="1.7" stroke-linecap="butt"/>
<line x1="625.55" y1="335.6" x2="633.95" y2="335.6" stroke="#000" stroke-width="1.9" stroke-linecap="butt"/>
<line x1="625.55" y1="344.4" x2="633.95" y2="344.4" stroke="#000" stroke-width="1.9" stroke-linecap="butt"/>
<circle cx="629.75" cy="340.0" r="4.4" fill="#000"/>
<line x1="674.7" y1="331.6" x2="674.7" y2="340.4" stroke="#000" stroke-width="1.7" stroke-linecap="butt"/>
<line x1="670.5" y1="331.6" x2="678.9000000000001" y2="331.6" stroke="#000" stroke-width="1.9" stroke-linecap="butt"/>
<line x1="670.5" y1="340.4" x2="678.9000000000001" y2="340.4" stroke="#000" stroke-width="1.9" stroke-linecap="butt"/>
<circle cx="674.7" cy="336.0" r="4.4" fill="#000"/>
<text x="449.95" y="315.95" font-size="17.5" text-anchor="middle" fill="#d62a1f" stroke="#d62a1f" stroke-width="0.35" stroke-linejoin="round" >***</text>
<text x="449.95" y="325.34999999999997" font-size="17.5" text-anchor="middle" fill="#00a0de" stroke="#00a0de" stroke-width="0.35" stroke-linejoin="round" >***</text>
<text x="494.9" y="301.65" font-size="17.5" text-anchor="middle" fill="#d62a1f" stroke="#d62a1f" stroke-width="0.35" stroke-linejoin="round" >***</text>
<text x="494.9" y="310.75" font-size="17.5" text-anchor="middle" fill="#00a0de" stroke="#00a0de" stroke-width="0.35" stroke-linejoin="round" >***</text>
<text x="539.85" y="296.05" font-size="17.5" text-anchor="middle" fill="#d62a1f" stroke="#d62a1f" stroke-width="0.35" stroke-linejoin="round" >***</text>
<text x="539.85" y="305.15" font-size="17.5" text-anchor="middle" fill="#00a0de" stroke="#00a0de" stroke-width="0.35" stroke-linejoin="round" >***</text>
<text x="584.8" y="291.05" font-size="17.5" text-anchor="middle" fill="#d62a1f" stroke="#d62a1f" stroke-width="0.35" stroke-linejoin="round" >***</text>
<text x="584.8" y="300.15" font-size="17.5" text-anchor="middle" fill="#00a0de" stroke="#00a0de" stroke-width="0.35" stroke-linejoin="round" >***</text>
<text x="629.75" y="286.05" font-size="17.5" text-anchor="middle" fill="#d62a1f" stroke="#d62a1f" stroke-width="0.35" stroke-linejoin="round" >***</text>
<text x="629.75" y="295.15" font-size="17.5" text-anchor="middle" fill="#00a0de" stroke="#00a0de" stroke-width="0.35" stroke-linejoin="round" >***</text>
<text x="674.7" y="284.95" font-size="17.5" text-anchor="middle" fill="#d62a1f" stroke="#d62a1f" stroke-width="0.35" stroke-linejoin="round" >***</text>
<text x="674.7" y="293.7" font-size="17.5" text-anchor="middle" fill="#00a0de" stroke="#00a0de" stroke-width="0.35" stroke-linejoin="round" >***</text>
<text transform="translate(376.8,437.9) rotate(-90)" x="0" y="0" font-size="14" text-anchor="start" stroke="#000" stroke-width="0.35" stroke-linejoin="round" textLength="180.79999999999995" lengthAdjust="spacingAndGlyphs">Change from baseline (SE)</text>
</svg>
</body></html>
